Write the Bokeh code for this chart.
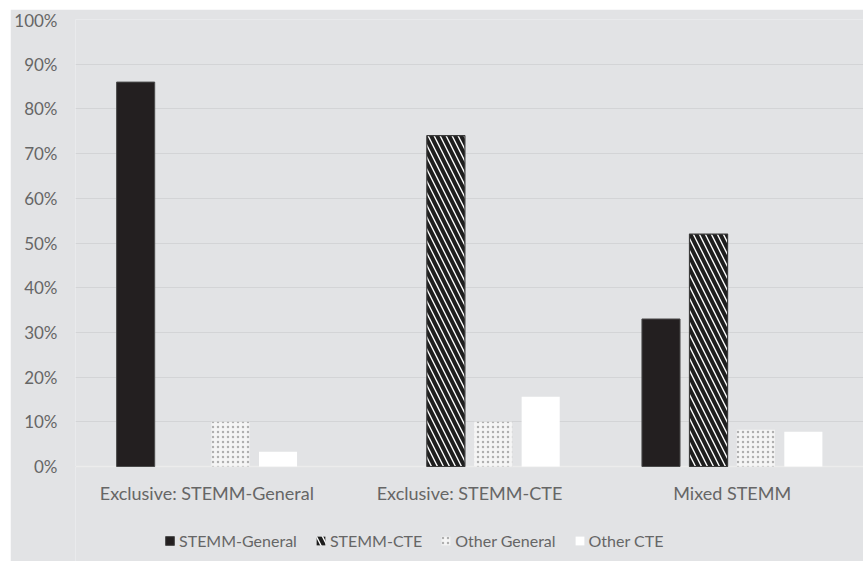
from bokeh.plotting import figure
from bokeh.models import (ColumnDataSource, FactorRange, Legend, LegendItem, NumeralTickFormatter,
                          FixedTicker, Span)
from bokeh.core.properties import value
from bokeh.transform import dodge
from bokeh.embed import file_html
from bokeh.resources import INLINE

categories = ["Exclusive: STEMM-General", "Exclusive: STEMM-CTE", "Mixed STEMM"]
series_names = ["STEMM-General", "STEMM-CTE", "Other General", "Other CTE"]
stemm_general = [0.86, 0.0, 0.33]
stemm_cte = [0.0, 0.74, 0.52]
other_general = [0.10, 0.10, 0.082]
other_cte = [0.033, 0.156, 0.078]
y_ticks = [0.0, 0.1, 0.2, 0.3, 0.4, 0.5, 0.6, 0.7, 0.8, 0.9, 1.0]

FONT = "Lato"
TEXT = "#666666"
BG = "#e2e3e5"

# frame extends below the 0% baseline to hold category labels and legend
p = figure(x_range=FactorRange(factors=categories, range_padding=0),
           y_range=(-0.2125, 1.0), width=853, height=552,
           output_backend="svg", toolbar_location=None,
           x_axis_location=None,
           margin=(9, 2, 0, 10),
           min_border_left=65, min_border_right=0, min_border_top=10, min_border_bottom=0)
p.background_fill_color = BG
p.border_fill_color = BG
p.outline_line_color = None

src = ColumnDataSource(dict(
    cat=categories, sg=stemm_general, sc=stemm_cte, og=other_general, oc=other_cte,
    sg_line=["#4a4a4a" if v > 0 else None for v in stemm_general],
    sc_line=["#3a3a3a" if v > 0 else None for v in stemm_cte],
))

base = Span(location=0, dimension="width", line_color="#ececec", line_width=1.5, level="underlay")
p.add_layout(base)

w = 0.145
r1 = p.vbar(x=dodge("cat", -0.271, range=p.x_range), top="sg", width=w, source=src,
            fill_color="#231f20", line_color="sg_line", line_width=1)
r2 = p.vbar(x=dodge("cat", -0.09, range=p.x_range), top="sc", width=w, source=src,
            fill_color="white", line_color="sc_line", line_width=1.2,
            hatch_pattern="\\", hatch_color="#1e1e1e", hatch_scale=12, hatch_weight=4.0)
r3 = p.vbar(x=dodge("cat", 0.09, range=p.x_range), top="og", width=w, source=src,
            fill_color="#f5f5f5", line_color=None,
            hatch_pattern=".", hatch_color="#b0b0b0", hatch_scale=5, hatch_weight=1.0)
r4 = p.vbar(x=dodge("cat", 0.271, range=p.x_range), top="oc", width=w, source=src,
            fill_color="white", line_color=None)

# category labels under the baseline
lab = ColumnDataSource(dict(cat=categories, y=[0.0] * len(categories)))
p.text(x="cat", y="y", text="cat", source=lab, y_offset=26,
       text_align="center", text_baseline="middle",
       text_font=value(FONT), text_font_size="18px", text_color=TEXT)

p.yaxis.ticker = FixedTicker(ticks=y_ticks)
p.ygrid.ticker = FixedTicker(ticks=y_ticks)
p.yaxis.formatter = NumeralTickFormatter(format="0%")
p.yaxis.axis_line_color = None
p.yaxis.major_tick_line_color = None
p.yaxis.minor_tick_line_color = None
p.yaxis.major_tick_out = 0
p.yaxis.major_tick_in = 0
p.yaxis.minor_tick_out = 0
p.yaxis.major_label_standoff = 18
p.yaxis.major_label_text_font = FONT
p.yaxis.major_label_text_font_size = "17px"
p.yaxis.major_label_text_color = TEXT

p.xgrid.grid_line_color = None
p.ygrid.grid_line_color = "#d3d4d6"
p.ygrid.grid_line_width = 1

legend = Legend(items=[LegendItem(label=n, renderers=[r]) for n, r in zip(series_names, [r1, r2, r3, r4])],
                orientation="horizontal", location=(89, 11),
                glyph_width=11, glyph_height=11, label_standoff=4, spacing=18,
                padding=0, margin=0, border_line_color=None, background_fill_alpha=0,
                label_text_font=FONT, label_text_font_size="16px", label_text_color=TEXT)
p.add_layout(legend, "center")

open("out.html", "w").write(file_html(p, INLINE))
